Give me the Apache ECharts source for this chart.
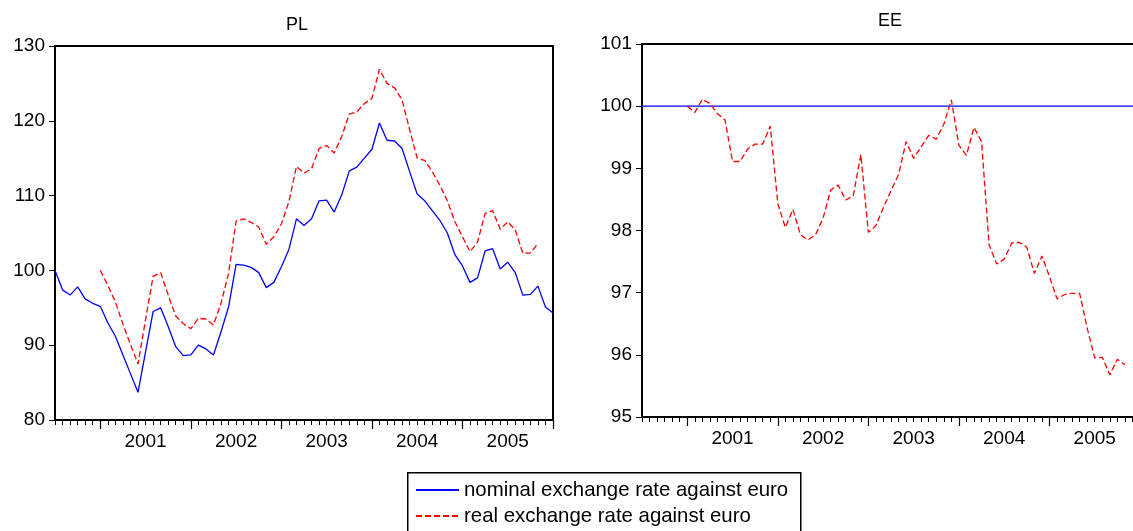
<!DOCTYPE html>
<html><head><meta charset="utf-8">
<script src="https://cdn.jsdelivr.net/npm/echarts@6/dist/echarts.min.js"></script>
<style>html,body{margin:0;padding:0;background:#fff}#c{width:1133px;height:531px}</style>
</head><body><div id="c"></div>
<script>
// Monthly observations, index 0 = 2000M07 ... 66 = 2006M01
const monthIndex = [0,1,2,3,4,5,6,7,8,9,10,11,12,13,14,15,16,17,18,19,20,21,22,23,24,25,26,27,28,29,30,31,32,33,34,35,36,37,38,39,40,41,42,43,44,45,46,47,48,49,50,51,52,53,54,55,56,57,58,59,60,61,62,63,64,65,66];
const yearTickIdx = [6,18,30,42,54,66];
const yearLabelIdx = [12,24,36,48,60];
const yearLabels = ['2001','2002','2003','2004','2005'];

const plNominal = [100.0,97.4,96.7,97.8,96.2,95.6,95.2,93.0,91.2,88.7,86.2,83.7,89.1,94.5,95.0,92.5,89.8,88.6,88.7,90.0,89.5,88.7,91.8,95.1,100.8,100.7,100.4,99.7,97.7,98.4,100.5,102.8,106.9,106.0,106.9,109.3,109.4,107.8,110.1,113.3,113.8,115.0,116.2,119.7,117.4,117.3,116.3,113.2,110.2,109.3,108.0,106.7,105.0,102.1,100.6,98.4,99.0,102.6,102.9,100.2,101.1,99.7,96.7,96.8,97.9,95.1,94.3];
const plReal = [null,null,null,null,null,null,100.0,98.0,95.8,92.8,90.1,87.5,93.4,99.2,99.7,96.7,93.9,92.9,92.2,93.6,93.5,92.7,95.6,99.6,106.6,106.9,106.4,105.8,103.5,104.5,106.2,109.2,113.9,113.0,113.6,116.3,116.7,115.7,117.9,120.9,121.2,122.3,123.0,126.9,125.0,124.4,122.8,118.8,115.0,114.7,113.2,111.4,109.3,106.5,104.5,102.5,103.8,107.6,108.0,105.5,106.5,105.4,102.3,102.3,103.6,null,null];
const eeNominal = [100,100,100,100,100,100,100,100,100,100,100,100,100,100,100,100,100,100,100,100,100,100,100,100,100,100,100,100,100,100,100,100,100,100,100,100,100,100,100,100,100,100,100,100,100,100,100,100,100,100,100,100,100,100,100,100,100,100,100,100,100,100,100,100,100,100,100];
const eeReal = [null,null,null,null,null,null,100.0,99.9,100.11,100.04,99.88,99.78,99.11,99.11,99.31,99.39,99.39,99.68,98.43,98.05,98.34,97.93,97.85,97.93,98.2,98.65,98.73,98.49,98.56,99.22,97.97,98.08,98.37,98.64,98.9,99.43,99.16,99.35,99.53,99.47,99.71,100.1,99.37,99.21,99.66,99.43,97.77,97.46,97.54,97.8,97.81,97.73,97.31,97.59,97.26,96.9,96.97,96.99,96.99,96.43,95.95,95.96,95.68,95.93,95.84,null,null];

const plTicks = [80,90,100,110,120,130];
const eeTicks = [95,96,97,98,99,100,101];

const NAME_NOM = 'nominal exchange rate against euro';
const NAME_REAL = 'real exchange rate against euro';
const FONT = 'Liberation Sans, Arial, sans-serif';

function pairs(arr){ const out=[]; arr.forEach((v,i)=>{ if(v!==null) out.push([monthIndex[i], v]); }); return out; }

const G0 = {left:55, top:46, width:498, height:374, outerBoundsMode:'none', containLabel:false};
const G1 = {left:642, top:44, width:498, height:373, outerBoundsMode:'none', containLabel:false};

function minorX(g){ return {type:'value', gridIndex:g, min:0, max:66, interval:1, position:'bottom',
  axisLine:{show:true, onZero:false, lineStyle:{color:'#000', width:2}},
  axisTick:{show:true, length:5, lineStyle:{color:'#000', width:1}},
  axisLabel:{show:false}, splitLine:{show:false}}; }
function majorX(g){ return {type:'value', gridIndex:g, min:0, max:66, position:'bottom',
  axisLine:{show:false, onZero:false},
  axisTick:{show:true, length:9, customValues:yearTickIdx, lineStyle:{color:'#000', width:1.2}},
  axisLabel:{show:true, customValues:yearLabelIdx, formatter:(v)=>yearLabels[yearLabelIdx.indexOf(v)],
    fontSize:19, color:'#000', fontFamily:FONT, margin:12},
  splitLine:{show:false}}; }
function yAx(g, mn, mx, iv){ return {type:'value', gridIndex:g, min:mn, max:mx, interval:iv,
  axisLine:{show:true, lineStyle:{color:'#000', width:2}},
  axisTick:{show:true, length:6, lineStyle:{color:'#000', width:1}},
  axisLabel:{fontSize:19, color:'#000', fontFamily:FONT, margin:10},
  splitLine:{show:false}}; }
function hiddenY(g){ return {type:'value', gridIndex:g, show:false, min:0, max:1}; }

function legendFor(name, top){ return {
  orient:'horizontal', left:409, top:top, padding:[0,0,0,6],
  itemWidth:43, itemHeight:14, selectedMode:false,
  itemStyle:{opacity:0, borderWidth:0},
  textStyle:{fontSize:20.4, color:'#000', fontFamily:FONT},
  data:[name] }; }

const option = {
  animation:false,
  backgroundColor:'#fff',
  title:[
    {text:'PL', left:292, top:11, textAlign:'center', textStyle:{fontSize:18, fontWeight:'normal', color:'#000', fontFamily:FONT}},
    {text:'EE', left:885, top:7, textAlign:'center', textStyle:{fontSize:18, fontWeight:'normal', color:'#000', fontFamily:FONT}}
  ],
  graphic:[
    {type:'rect', left:407, top:472, shape:{width:393, height:80},
      style:{fill:'#fff', stroke:'#000', lineWidth:1.5}, z:-1}
  ],
  grid:[
    Object.assign({show:true, borderColor:'#000', borderWidth:2, backgroundColor:'transparent'}, G0),
    Object.assign({show:true, borderColor:'#000', borderWidth:2, backgroundColor:'transparent'}, G1),
    Object.assign({show:false}, G0),
    Object.assign({show:false}, G1)
  ],
  xAxis:[minorX(0), minorX(1), majorX(2), majorX(3)],
  yAxis:[yAx(0, plTicks[0], plTicks[plTicks.length-1], 10), yAx(1, eeTicks[0], eeTicks[eeTicks.length-1], 1), hiddenY(2), hiddenY(3)],
  legend:[legendFor(NAME_NOM, 480), legendFor(NAME_REAL, 506)],
  series:[
    {name:NAME_NOM, type:'line', xAxisIndex:0, yAxisIndex:0, data:pairs(plNominal), symbol:'none',
      lineStyle:{color:'#0000ff', width:1.3}, itemStyle:{color:'#0000ff'}},
    {name:NAME_REAL, type:'line', xAxisIndex:0, yAxisIndex:0, data:pairs(plReal), symbol:'none',
      lineStyle:{color:'#ff0000', width:1.3, type:[6,3]}, itemStyle:{color:'#ff0000'}},
    {name:NAME_NOM, type:'line', xAxisIndex:1, yAxisIndex:1, data:pairs(eeNominal), symbol:'none',
      lineStyle:{color:'#0000ff', width:1.3}, itemStyle:{color:'#0000ff'}},
    {name:NAME_REAL, type:'line', xAxisIndex:1, yAxisIndex:1, data:pairs(eeReal), symbol:'none',
      lineStyle:{color:'#ff0000', width:1.3, type:[6,3]}, itemStyle:{color:'#ff0000'}}
  ]
};
echarts.init(document.getElementById('c'), null, {renderer:'canvas'}).setOption(option);
</script></body></html>
